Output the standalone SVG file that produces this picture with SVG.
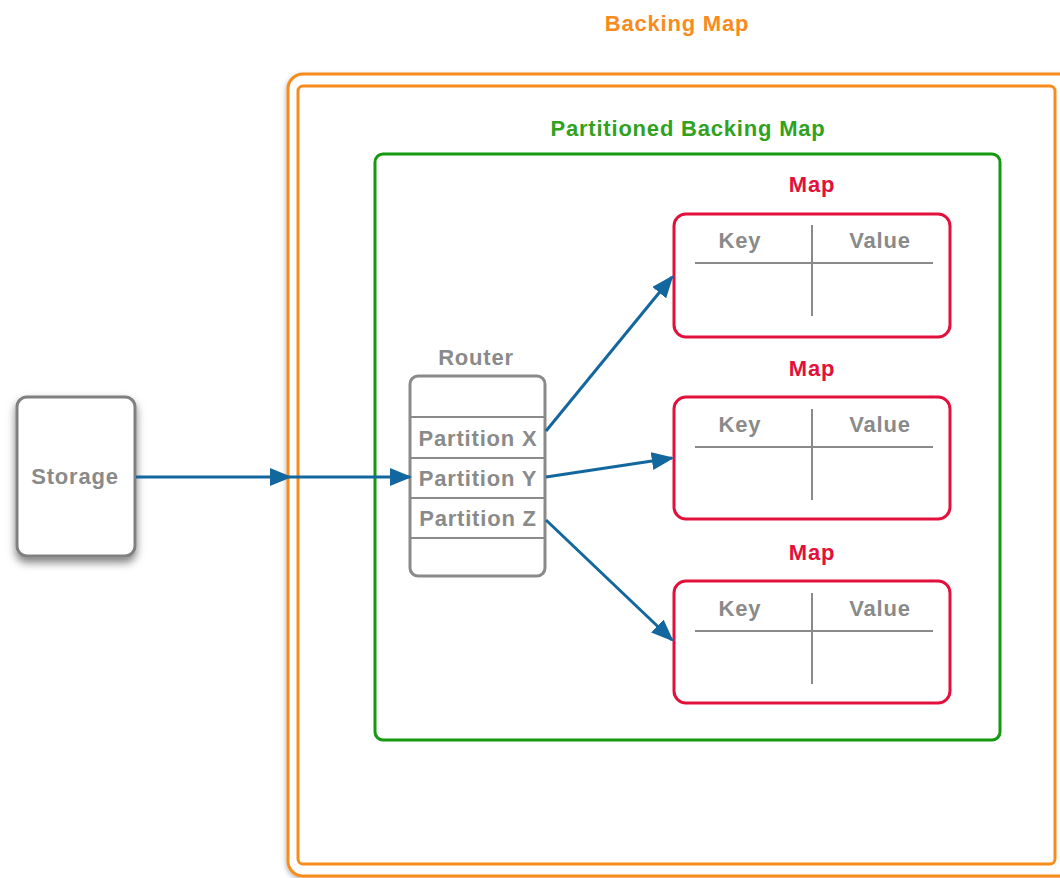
<svg xmlns="http://www.w3.org/2000/svg" width="1060" height="878" viewBox="0 0 1060 878">
<defs>
<style>
text{font-family:"Liberation Sans",Arial,sans-serif;font-weight:bold;text-anchor:middle;font-size:22px;letter-spacing:0.8px}
.gray{fill:#8a8a8a}
.map{fill:none;stroke:#e3103c;stroke-width:3}
.mlabel{fill:#e3103c}
.grid{stroke:#8a8a8a;stroke-width:2;fill:none}
.conn{stroke:#12679e;stroke-width:3;fill:none;marker-end:url(#ah)}
</style>
<marker id="ah" markerWidth="7.5" markerHeight="6" refX="9" refY="4" orient="auto" markerUnits="strokeWidth" viewBox="0 0 10 8">
<path d="M0,0 L10,4 L0,8 z" fill="#12679e"/>
</marker>
<filter id="sh" x="-20%" y="-20%" width="150%" height="150%">
<feDropShadow dx="0" dy="5" stdDeviation="4" flood-color="#000" flood-opacity="0.5"/>
</filter>
<filter id="sh2" x="-5%" y="-5%" width="110%" height="110%">
<feDropShadow dx="-1" dy="2" stdDeviation="2" flood-color="#000" flood-opacity="0.25"/>
</filter>
</defs>
<rect width="1060" height="878" fill="#fff"/>

<g id="backing-map">
<rect x="288" y="74" width="790" height="802" rx="15" fill="#fff" stroke="#f78b1e" stroke-width="3" filter="url(#sh2)"/>
<rect x="298" y="86" width="757" height="778" rx="5" fill="none" stroke="#f78b1e" stroke-width="3"/>
<text x="677" y="31" style="fill:#f78b1e">Backing Map</text>
</g>

<g id="partitioned-backing-map">
<rect x="375" y="154" width="625" height="586" rx="8" fill="none" stroke="#149a0e" stroke-width="3"/>
<text x="688" y="136" style="fill:#30a21e">Partitioned Backing Map</text>
</g>

<g id="storage">
<rect x="17" y="397" width="118" height="159" rx="10" fill="#fff" stroke="#808080" stroke-width="3" filter="url(#sh)"/>
<text x="75" y="484" class="gray">Storage</text>
</g>

<g id="router">
<text x="476" y="365" class="gray">Router</text>
<rect x="410" y="376" width="135" height="200" rx="8" fill="#fff" stroke="#8a8a8a" stroke-width="3"/>
<line x1="410" y1="417" x2="545" y2="417" class="grid"/>
<line x1="410" y1="458" x2="545" y2="458" class="grid"/>
<line x1="410" y1="498" x2="545" y2="498" class="grid"/>
<line x1="410" y1="538" x2="545" y2="538" class="grid"/>
<text x="478" y="446" class="gray">Partition X</text>
<text x="478" y="486" class="gray">Partition Y</text>
<text x="478" y="526" class="gray">Partition Z</text>
</g>

<g id="map1">
<text x="812" y="192" class="mlabel">Map</text>
<rect x="674" y="214" width="276" height="123" rx="12" class="map"/>
<text x="740" y="248" class="gray">Key</text>
<text x="880" y="248" class="gray">Value</text>
<line x1="695" y1="263" x2="933" y2="263" class="grid"/>
<line x1="812" y1="225" x2="812" y2="316" class="grid"/>
</g>

<g id="map2">
<text x="812" y="376" class="mlabel">Map</text>
<rect x="674" y="397" width="276" height="122" rx="12" class="map"/>
<text x="740" y="432" class="gray">Key</text>
<text x="880" y="432" class="gray">Value</text>
<line x1="695" y1="447" x2="933" y2="447" class="grid"/>
<line x1="812" y1="409" x2="812" y2="500" class="grid"/>
</g>

<g id="map3">
<text x="812" y="560" class="mlabel">Map</text>
<rect x="674" y="581" width="276" height="122" rx="12" class="map"/>
<text x="740" y="616" class="gray">Key</text>
<text x="880" y="616" class="gray">Value</text>
<line x1="695" y1="631" x2="933" y2="631" class="grid"/>
<line x1="812" y1="593" x2="812" y2="684" class="grid"/>
</g>

<g id="connectors">
<line x1="136" y1="477" x2="290" y2="477" class="conn"/>
<line x1="290" y1="477" x2="410" y2="477" class="conn"/>
<line x1="546" y1="431" x2="672" y2="277" class="conn"/>
<line x1="546" y1="477" x2="672" y2="458" class="conn"/>
<line x1="546" y1="520" x2="672" y2="640" class="conn"/>
</g>
</svg>
